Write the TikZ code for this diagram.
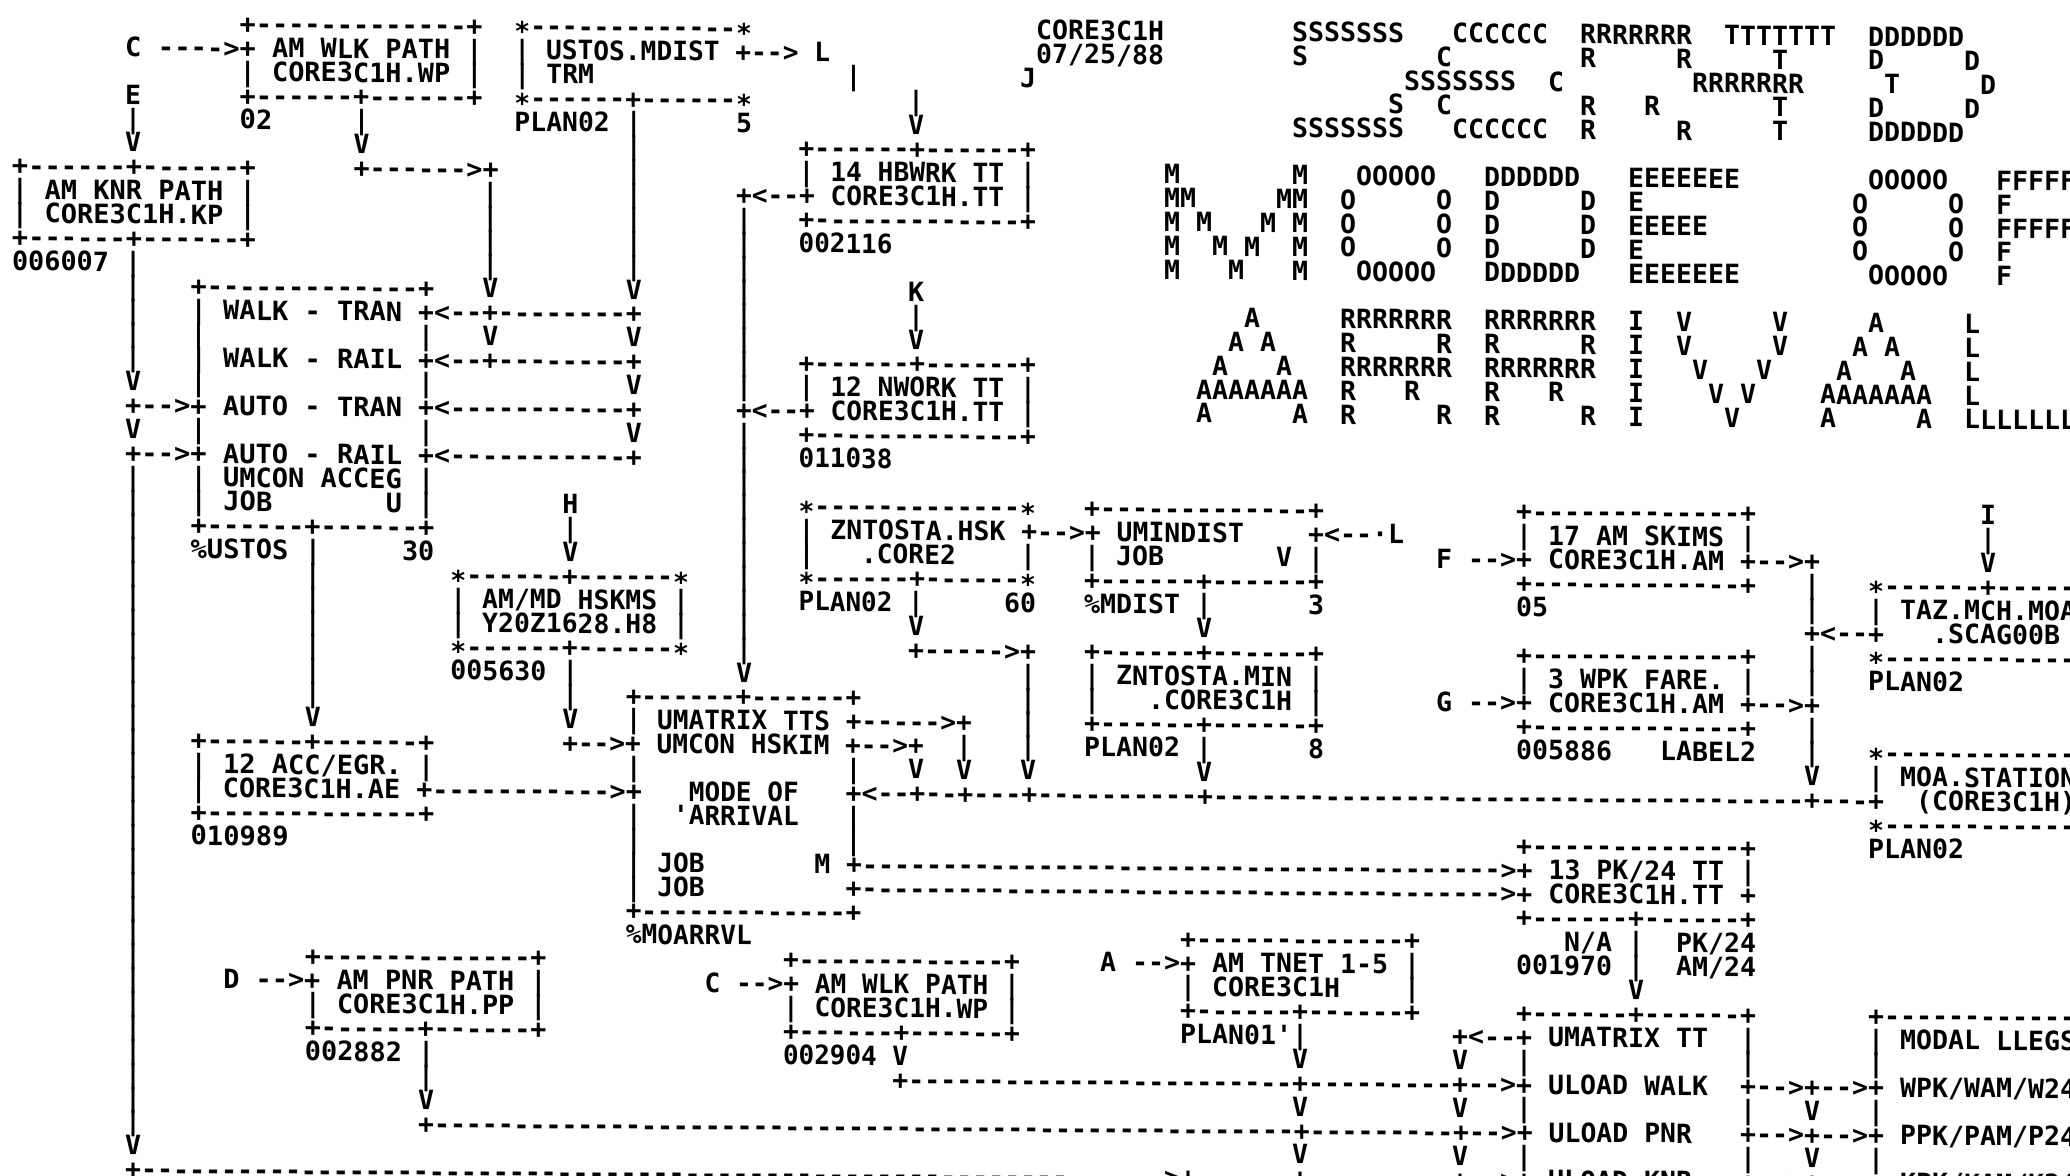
\documentclass[tikz,border=0pt]{standalone}
\usepackage{fontspec}
\setmonofont{DejaVu Sans Mono}
\frenchspacing
\newcommand\lpfont{\ttfamily\bfseries\fontsize{13.29pt}{14pt}\selectfont}
\tikzset{
  lp/.style={anchor=base west, inner sep=0pt, outer sep=0pt,
    text height=9.7pt, text depth=0.5pt, font=\lpfont}
}
% the printout is a little wider in its left half: offset (px) of a column
\newcommand\lpdev[1]{\pgfmathsetmacro\lpres{((#1)>4)*((#1)<56)*6.5*sin(3.4615*((#1)-4))}}
% one printed item, placed by column and line of the listing
\newcommand\lpt[3]{%
  \setbox0=\hbox{\pgfinterruptpicture\lpfont#3\endpgfinterruptpicture}%
  \edef\lpn{\the\numexpr\wd0/524288\relax}%
  \ifnum\lpn<1 \def\lpn{1}\fi
  \lpdev{#1}\let\lpa\lpres
  \lpdev{#1+\lpn-1}\let\lpb\lpres
  \pgfmathsetmacro\lpsx{1+(\lpb-\lpa)/max((\lpn-1)*16,1)}%
  \node[lp, xscale=\lpsx] (t#1-#2) at ({#1-0.5+\lpa/16},{#2+0.405}) {#3};}
\newcommand\dsh[1]{\foreach\ii in {1,...,#1}{-}}
\newcommand\vrun[3]{\foreach\rr in {#2,...,#3}{\lpt{#1}{\rr}{|}}}
\newcommand\lpedge{+\dsh{13}+}
\newcommand\lpmid{+\dsh{6}+\dsh{6}+}
\newcommand\lpstar{∗\dsh{13}∗}
\newcommand\lpstarmid{∗\dsh{6}+\dsh{6}∗}

\begin{document}
\begin{tikzpicture}[x=0.5pt,y=0.5pt]
\useasboundingbox (0,0) rectangle (2070,-1176);
\fill[white] (0,0) rectangle (2070,-1176);
\clip (0,0) rectangle (2070,-1176);
\begin{scope}[shift={(20,-22)}, yslant=-0.0078, transform shape, x=8pt, y=-11.94pt]

% walk path at the top
\lpt{7}{1}{C ---->}
\lpt{14}{0}{\lpedge}
\lpt{14}{1}{+ AM WLK PATH |}
\lpt{14}{2}{| CORE3C1H.WP |}
\lpt{14}{3}{\lpmid}
\lpt{14}{4}{02}
\lpt{21}{4}{|}
\lpt{21}{5}{V}
\lpt{21}{6}{+\dsh{6}>+}
\vrun{29}{7}{10}
\lpt{29}{11}{V}
\lpt{29}{13}{V}

% knr path and the long feed on the left
\lpt{7}{3}{E}
\lpt{7}{4}{|}
\lpt{7}{5}{V}
\lpt{0}{6}{\lpmid}
\lpt{0}{7}{| AM KNR PATH |}
\lpt{0}{8}{| CORE3C1H.KP |}
\lpt{0}{9}{\lpmid}
\lpt{0}{10}{006007 |}
\vrun{7}{11}{14}
\lpt{7}{15}{V}
\lpt{7}{16}{+-->+ AUTO - TRAN}
\lpt{7}{17}{V}
\lpt{7}{18}{+-->+ AUTO - RAIL}
\vrun{7}{19}{46}
\lpt{7}{47}{V}
\lpt{7}{48}{+\dsh{64}>+}

% ustos.mdist
\lpt{31}{0}{\lpstar}
\lpt{31}{1}{| USTOS.MDIST +--> L}
\lpt{31}{2}{| TRM}
\lpt{31}{3}{\lpstarmid}
\lpt{31}{4}{PLAN02 |}
\lpt{45}{4}{5}
\vrun{38}{5}{10}
\lpt{38}{11}{V}
\lpt{38}{13}{V}
\lpt{38}{15}{V}
\lpt{38}{17}{V}

% walk / auto box
\lpt{11}{11}{\lpedge}
\lpt{11}{12}{| WALK - TRAN}
\lpt{25}{12}{+<--+\dsh{8}+}
\lpt{11}{13}{|}
\lpt{25}{13}{|}
\lpt{11}{14}{| WALK - RAIL}
\lpt{25}{14}{+<--+\dsh{8}+}
\lpt{11}{15}{|}
\lpt{25}{15}{|}
\lpt{25}{16}{+<\dsh{11}+}
\lpt{11}{17}{|}
\lpt{25}{17}{|}
\lpt{25}{18}{+<\dsh{11}+}
\lpt{11}{19}{| UMCON ACCEG |}
\lpt{11}{20}{| JOB}
\lpt{23}{20}{U |}
\lpt{11}{21}{\lpmid}
\lpt{11}{22}{\%USTOS |}
\lpt{24}{22}{30}
\vrun{18}{23}{28}
\lpt{18}{29}{V}

% header and banner
\lpt{64}{0}{CORE3C1H}
\lpt{64}{1}{07/25/88}
\foreach \c/\s in {80/SSSSSSS,90/CCCCCC,98/RRRRRRR,107/TTTTTTT,116/DDDDDD} {\lpt{\c}{0}{\s}}
\foreach \c/\s in {80/S,89/C,98/R,104/R,110/T,116/D,122/D} {\lpt{\c}{1}{\s}}
\foreach \c/\s in {87/SSSSSSS,96/C,105/RRRRRRR,117/T,123/D} {\lpt{\c}{2}{\s}}
\foreach \c/\s in {86/S,89/C,98/R,102/R,110/T,116/D,122/D} {\lpt{\c}{3}{\s}}
\foreach \c/\s in {80/SSSSSSS,90/CCCCCC,98/R,104/R,110/T,116/DDDDDD} {\lpt{\c}{4}{\s}}
\foreach \c/\s in {72/M,80/M,84/OOOOO,92/DDDDDD,101/EEEEEEE,116/OOOOO,124/FFFFFFF} {\lpt{\c}{6}{\s}}
\foreach \c/\s in {72/MM,79/MM,83/O,89/O,92/D,98/D,101/E,115/O,121/O,124/F} {\lpt{\c}{7}{\s}}
\foreach \c/\s in {72/M,74/M,78/M,80/M,83/O,89/O,92/D,98/D,101/EEEEE,115/O,121/O,124/FFFFF} {\lpt{\c}{8}{\s}}
\foreach \c/\s in {72/M,75/M,77/M,80/M,83/O,89/O,92/D,98/D,101/E,115/O,121/O,124/F} {\lpt{\c}{9}{\s}}
\foreach \c/\s in {72/M,76/M,80/M,84/OOOOO,92/DDDDDD,101/EEEEEEE,116/OOOOO,124/F} {\lpt{\c}{10}{\s}}
\foreach \c/\s in {77/A,83/RRRRRRR,92/RRRRRRR,101/I,104/V,110/V,116/A,122/L} {\lpt{\c}{12}{\s}}
\foreach \c/\s in {76/A,78/A,83/R,89/R,92/R,98/R,101/I,104/V,110/V,115/A,117/A,122/L} {\lpt{\c}{13}{\s}}
\foreach \c/\s in {75/A,79/A,83/RRRRRRR,92/RRRRRRR,101/I,105/V,109/V,114/A,118/A,122/L} {\lpt{\c}{14}{\s}}
\foreach \c/\s in {74/AAAAAAA,83/R,87/R,92/R,96/R,101/I,106/V,108/V,113/AAAAAAA,122/L} {\lpt{\c}{15}{\s}}
\foreach \c/\s in {74/A,80/A,83/R,89/R,92/R,98/R,101/I,107/V,113/A,119/A,122/LLLLLLL} {\lpt{\c}{16}{\s}}

% hbwrk and nwork
\lpt{52}{2}{|}
\lpt{63}{2}{J}
\lpt{56}{3}{|}
\lpt{56}{4}{V}
\lpt{49}{5}{\lpmid}
\lpt{49}{6}{| 14 HBWRK TT |}
\lpt{45}{7}{+<--+ CORE3C1H.TT |}
\lpt{49}{8}{\lpedge}
\lpt{49}{9}{002116}
\vrun{45}{8}{15}
\lpt{56}{11}{K}
\lpt{56}{12}{|}
\lpt{56}{13}{V}
\lpt{49}{14}{\lpmid}
\lpt{49}{15}{| 12 NWORK TT |}
\lpt{45}{16}{+<--+ CORE3C1H.TT |}
\lpt{49}{17}{\lpedge}
\lpt{49}{18}{011038}
\vrun{45}{17}{26}
\lpt{45}{27}{V}

% am/md hskms
\lpt{34}{20}{H}
\lpt{34}{21}{|}
\lpt{34}{22}{V}
\lpt{27}{23}{\lpstarmid}
\lpt{27}{24}{| AM/MD HSKMS |}
\lpt{27}{25}{| Y20Z1628.H8 |}
\lpt{27}{26}{\lpstarmid}
\lpt{27}{27}{005630 |}
\lpt{34}{28}{|}
\lpt{34}{29}{V}
\lpt{34}{30}{+-->+ UMCON HSKIM +-->+}

% acc/egr
\lpt{11}{30}{\lpmid}
\lpt{11}{31}{| 12 ACC/EGR. |}
\lpt{11}{32}{| CORE3C1H.AE +\dsh{11}>+}
\lpt{11}{33}{\lpedge}
\lpt{11}{34}{010989}

% umatrix tts, mode of arrival
\lpt{38}{28}{\lpmid}
\lpt{38}{29}{| UMATRIX TTS +\dsh{5}>+}
\lpt{38}{31}{|}
\lpt{52}{31}{|}
\lpt{56}{31}{V}
\lpt{59}{30}{|}
\lpt{59}{31}{V}
\lpt{42}{32}{MODE OF}
\lpt{52}{32}{+<--+--+---+\dsh{10}+\dsh{37}+---+}
\lpt{38}{33}{|}
\lpt{41}{33}{'ARRIVAL}
\lpt{52}{33}{|}
\lpt{38}{34}{|}
\lpt{52}{34}{|}
\lpt{38}{35}{| JOB}
\lpt{50}{35}{M +\dsh{40}>+ 13 PK/24 TT |}
\lpt{38}{36}{| JOB}
\lpt{52}{36}{+\dsh{40}>+ CORE3C1H.TT +}
\lpt{38}{37}{\lpedge}
\lpt{38}{38}{\%MOARRVL}

% zntosta.hsk
\lpt{49}{20}{\lpstar}
\lpt{49}{21}{| ZNTOSTA.HSK +-->+ UMINDIST}
\lpt{49}{22}{|}
\lpt{53}{22}{.CORE2}
\lpt{63}{22}{|}
\lpt{49}{23}{\lpstarmid}
\lpt{49}{24}{PLAN02 |}
\lpt{62}{24}{60}
\lpt{56}{25}{V}
\lpt{56}{26}{+\dsh{5}>+}
\vrun{63}{27}{30}
\lpt{63}{31}{V}

% umindist, zntosta.min
\lpt{67}{20}{\lpedge}
\lpt{81}{21}{+<--·L}
\lpt{67}{22}{| JOB}
\lpt{79}{22}{V |}
\lpt{67}{23}{\lpmid}
\lpt{67}{24}{\%MDIST |}
\lpt{81}{24}{3}
\lpt{74}{25}{V}
\lpt{67}{26}{\lpmid}
\lpt{67}{27}{| ZNTOSTA.MIN |}
\lpt{67}{28}{|}
\lpt{71}{28}{.CORE3C1H |}
\lpt{67}{29}{\lpmid}
\lpt{67}{30}{PLAN02 |}
\lpt{81}{30}{8}
\lpt{74}{31}{V}

% skims and fare
\lpt{94}{20}{\lpedge}
\lpt{94}{21}{| 17 AM SKIMS |}
\lpt{89}{22}{F -->+ CORE3C1H.AM +-->+}
\lpt{94}{23}{\lpedge}
\lpt{94}{24}{05}
\lpt{94}{26}{\lpedge}
\lpt{94}{27}{| 3 WPK FARE. |}
\lpt{89}{28}{G -->+ CORE3C1H.AM +-->+}
\lpt{94}{29}{\lpedge}
\lpt{94}{30}{005886}
\lpt{103}{30}{LABEL2}
\vrun{112}{23}{24}
\lpt{112}{25}{+<--+}
\vrun{112}{26}{27}
\vrun{112}{29}{30}
\lpt{112}{31}{V}

% taz and moa station
\lpt{123}{20}{I}
\lpt{123}{21}{|}
\lpt{123}{22}{V}
\lpt{116}{23}{∗\dsh{6}+\dsh{6}}
\lpt{116}{24}{| TAZ.MCH.MOA}
\lpt{120}{25}{.SCAG00B}
\lpt{116}{26}{∗\dsh{13}}
\lpt{116}{27}{PLAN02}
\lpt{116}{30}{∗\dsh{13}}
\lpt{116}{31}{| MOA.STATION}
\lpt{119}{32}{(CORE3C1H)}
\lpt{116}{33}{∗\dsh{13}}
\lpt{116}{34}{PLAN02}

% pk/24 tt
\lpt{94}{34}{\lpedge}
\lpt{94}{37}{\lpmid}
\lpt{97}{38}{N/A}
\lpt{101}{38}{|}
\lpt{104}{38}{PK/24}
\lpt{94}{39}{001970 |}
\lpt{104}{39}{AM/24}
\lpt{101}{40}{V}

% am tnet
\lpt{73}{38}{\lpedge}
\lpt{68}{39}{A -->+ AM TNET 1-5 |}
\lpt{73}{40}{| CORE3C1H}
\lpt{87}{40}{|}
\lpt{73}{41}{\lpmid}
\lpt{73}{42}{PLAN01'|}
\lpt{80}{43}{V}
\lpt{80}{45}{V}
\lpt{80}{47}{V}
\lpt{80}{48}{+}

% pnr path
\lpt{18}{39}{\lpedge}
\lpt{13}{40}{D -->+ AM PNR PATH |}
\lpt{18}{41}{| CORE3C1H.PP |}
\lpt{18}{42}{\lpmid}
\lpt{18}{43}{002882 |}
\lpt{25}{44}{|}
\lpt{25}{45}{V}
\lpt{25}{46}{+\dsh{54}+\dsh{9}+-->+ ULOAD PNR}

% second walk path
\lpt{48}{39}{\lpedge}
\lpt{43}{40}{C -->+ AM WLK PATH |}
\lpt{48}{41}{| CORE3C1H.WP |}
\lpt{48}{42}{\lpmid}
\lpt{48}{43}{002904 V}
\lpt{55}{44}{+\dsh{24}+\dsh{9}+-->+ ULOAD WALK}

% umatrix tt and modal legs
\lpt{94}{41}{\lpmid}
\lpt{90}{42}{+<--+ UMATRIX TT}
\lpt{108}{42}{|}
\lpt{90}{43}{V}
\lpt{94}{43}{|}
\lpt{108}{43}{|}
\lpt{108}{44}{+-->+-->+ WPK/WAM/W24}
\foreach \c/\s in {90/V,94/|,108/|,112/V,116/|} {\lpt{\c}{45}{\s}}
\lpt{108}{46}{+-->+-->+ PPK/PAM/P24}
\foreach \c/\s in {90/V,94/|,108/|,112/V,116/|} {\lpt{\c}{47}{\s}}
\lpt{90}{48}{+-->+ ULOAD KNR}
\lpt{108}{48}{+-->+-->+ KPK/KAM/K24}
\lpt{116}{41}{+\dsh{13}}
\lpt{116}{42}{| MODAL LLEGS}
\lpt{116}{43}{|}

\end{scope}
\end{tikzpicture}
\end{document}
